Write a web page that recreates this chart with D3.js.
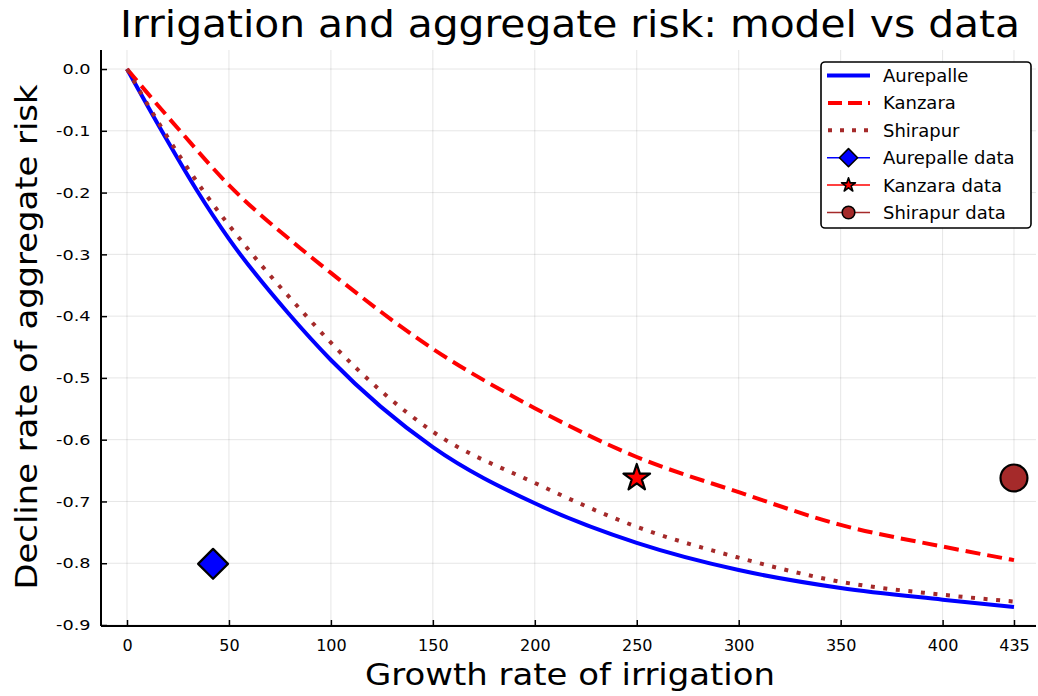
<!DOCTYPE html>
<html>
<head>
<meta charset="utf-8">
<script src="https://cdn.jsdelivr.net/npm/d3@7"></script>
<style>
  html, body { margin: 0; padding: 0; background: #fff; }
  svg { display: block; }
  text { font-family: "DejaVu Sans", sans-serif; fill: #000; }
</style>
</head>
<body>
<svg id="chart" width="1038" height="696"></svg>
<script>
// Model curves: growth rate of irrigation vs decline rate of aggregate risk
const aurepalleX = [0, 17, 34, 50, 79, 100, 150, 200, 250, 300, 350, 400, 435];
const aurepalleY = [0, -0.1, -0.195, -0.275, -0.395, -0.471, -0.612, -0.703, -0.767, -0.811, -0.840, -0.859, -0.871];

const kanzaraX = [0, 26, 50, 85, 100, 150, 200, 250, 300, 350, 400, 435];
const kanzaraY = [0, -0.1, -0.188, -0.29, -0.33, -0.453, -0.549, -0.628, -0.685, -0.738, -0.773, -0.795];

const shirapurX = [0, 17, 38, 59, 88, 100, 150, 200, 250, 300, 350, 400, 435];
const shirapurY = [0, -0.095, -0.2, -0.29, -0.4, -0.443, -0.587, -0.670, -0.741, -0.791, -0.830, -0.851, -0.862];

// Observed village data points
const dataNames = ["Aurepalle data", "Kanzara data", "Shirapur data"];
const dataX = [42.2, 250, 435];
const dataY = [-0.801, -0.662, -0.662];

// Axis ticks
const xTicks = [0, 50, 100, 150, 200, 250, 300, 350, 400, 435];
const yTicks = [0, -0.1, -0.2, -0.3, -0.4, -0.5, -0.6, -0.7, -0.8, -0.9];

(function draw() {
  const svg = d3.select("#chart");
  const pLeft = 101, pRight = 1036, pTop = 50, pBottom = 626;

  const x = d3.scaleLinear().domain([-12.75, 445.8]).range([pLeft, pRight]);
  const y = d3.scaleLinear().domain([-0.9016, 0.0308]).range([pBottom, pTop]);

  // grid
  const grid = svg.append("g");
  grid.selectAll("line.gx").data(xTicks).join("line").attr("class", "gx")
    .attr("x1", d => x(d)).attr("x2", d => x(d))
    .attr("y1", pTop).attr("y2", pBottom)
    .attr("stroke", "#000").attr("stroke-opacity", 0.1).attr("stroke-width", 1);
  grid.selectAll("line.gy").data(yTicks).join("line").attr("class", "gy")
    .attr("x1", pLeft).attr("x2", pRight)
    .attr("y1", d => y(d)).attr("y2", d => y(d))
    .attr("stroke", "#000").attr("stroke-opacity", 0.1).attr("stroke-width", 1);

  // axes
  const xAxis = d3.axisBottom(x).tickValues(xTicks).tickFormat(d3.format("d"))
    .tickSizeInner(-6).tickSizeOuter(0).tickPadding(14);
  const yAxis = d3.axisLeft(y).tickValues(yTicks).tickFormat(d => d.toFixed(1))
    .tickSizeInner(-6).tickSizeOuter(0).tickPadding(11);

  const gx = svg.append("g").attr("transform", `translate(0,${pBottom})`).call(xAxis);
  const gy = svg.append("g").attr("transform", `translate(${pLeft},0)`).call(yAxis);
  [gx, gy].forEach(g => {
    g.select(".domain").attr("stroke", "#000").attr("stroke-width", 2);
    g.selectAll(".tick line").attr("stroke", "#000").attr("stroke-width", 1.5);
    g.selectAll(".tick text").attr("font-family", "DejaVu Sans, sans-serif")
      .attr("font-size", 14.5).attr("fill", "#222");
  });
  gx.selectAll(".tick text").attr("font-family", "DejaVu Sans Condensed, DejaVu Sans, sans-serif").attr("font-size", 16);
  // y tick labels are drawn a little wider than the plain face
  gy.selectAll(".tick text").attr("x", -10.5 / 1.22).attr("transform", "scale(1.22,1)");
  gx.select(".domain").attr("d", `M${pLeft},0H${pRight}`);
  gy.select(".domain").attr("d", `M0,${pTop}V${pBottom}`);

  // clip to plot area
  svg.append("clipPath").attr("id", "plotclip").append("rect")
    .attr("x", pLeft).attr("y", pTop).attr("width", pRight - pLeft).attr("height", pBottom - pTop);

  const plot = svg.append("g").attr("clip-path", "url(#plotclip)");

  const line = d3.line().x(d => x(d[0])).y(d => y(d[1])).curve(d3.curveMonotoneX);
  const zip = (a, b) => a.map((v, i) => [v, b[i]]);

  const series = [
    { name: "Aurepalle", pts: zip(aurepalleX, aurepalleY), color: "#0000ff", dash: null },
    { name: "Kanzara", pts: zip(kanzaraX, kanzaraY), color: "#ff0000", dash: "15,7" },
    { name: "Shirapur", pts: zip(shirapurX, shirapurY), color: "#a52a2a", dash: "4,8.6" }
  ];

  series.forEach(s => {
    plot.append("path")
      .attr("d", line(s.pts))
      .attr("fill", "none")
      .attr("stroke", s.color)
      .attr("stroke-width", 4)
      .attr("stroke-dasharray", s.dash);
  });

  // marker shapes
  const markerSpec = [
    { type: d3.symbolDiamond2, size: 570, fill: "#0000ff", color: "#0000ff", legendSize: 210 },
    { type: d3.symbolStar, size: 220, fill: "#ff0000", color: "#ff0000", legendSize: 60 },
    { type: d3.symbolCircle, size: 570, fill: "#a52a2a", color: "#a52a2a", legendSize: 125 }
  ];

  dataX.forEach((dx, i) => {
    const m = markerSpec[i];
    svg.append("path")
      .attr("d", d3.symbol().type(m.type).size(m.size)())
      .attr("transform", `translate(${x(dx)},${y(dataY[i])})`)
      .attr("fill", m.fill).attr("stroke", "#000").attr("stroke-width", 2.2)
      .attr("stroke-linejoin", "round");
  });

  // legend
  const lg = svg.append("g");
  lg.append("rect").attr("x", 821).attr("y", 62).attr("width", 210).attr("height", 166)
    .attr("rx", 4).attr("fill", "#fff").attr("stroke", "#000").attr("stroke-width", 1.6);

  const legendNames = series.map(s => s.name).concat(dataNames);
  const rowY = i => 75.5 + i * 27.4;
  legendNames.forEach((name, i) => {
    const yy = rowY(i);
    if (i < 3) {
      const s = series[i];
      lg.append("line").attr("x1", 827).attr("x2", 870).attr("y1", yy).attr("y2", yy)
        .attr("stroke", s.color).attr("stroke-width", 4)
        .attr("stroke-dasharray", i === 1 ? "14,6" : (i === 2 ? "4,8" : null))
        .attr("stroke-dashoffset", i === 0 ? 0 : -1);
    } else {
      const m = markerSpec[i - 3];
      lg.append("line").attr("x1", 827).attr("x2", 870).attr("y1", yy).attr("y2", yy)
        .attr("stroke", m.color).attr("stroke-width", 1.5);
      lg.append("path").attr("d", d3.symbol().type(m.type).size(m.legendSize)())
        .attr("transform", `translate(848.5,${yy})`)
        .attr("fill", m.fill).attr("stroke", "#000").attr("stroke-width", 1.6)
        .attr("stroke-linejoin", "round");
    }
    lg.append("text").attr("x", 883).attr("y", yy).attr("dy", "0.36em")
      .attr("font-size", 18).attr("fill", "#222").text(name);
  });

  // titles
  svg.append("text").attr("x", 570).attr("y", 37).attr("text-anchor", "middle")
    .attr("font-family", "DejaVu Sans Condensed, DejaVu Sans, sans-serif")
    .attr("font-size", 38).attr("textLength", 900).attr("lengthAdjust", "spacingAndGlyphs")
    .text("Irrigation and aggregate risk: model vs data");

  svg.append("text").attr("x", 570).attr("y", 685).attr("text-anchor", "middle")
    .attr("font-family", "DejaVu Sans Condensed, DejaVu Sans, sans-serif")
    .attr("font-size", 31).attr("textLength", 410).attr("lengthAdjust", "spacingAndGlyphs")
    .text("Growth rate of irrigation");

  svg.append("text").attr("transform", "translate(37,337) rotate(-90)").attr("text-anchor", "middle")
    .attr("font-family", "DejaVu Sans, sans-serif")
    .attr("font-size", 31).attr("textLength", 505).attr("lengthAdjust", "spacingAndGlyphs")
    .text("Decline rate of aggregate risk");
})();
</script>
</body>
</html>
